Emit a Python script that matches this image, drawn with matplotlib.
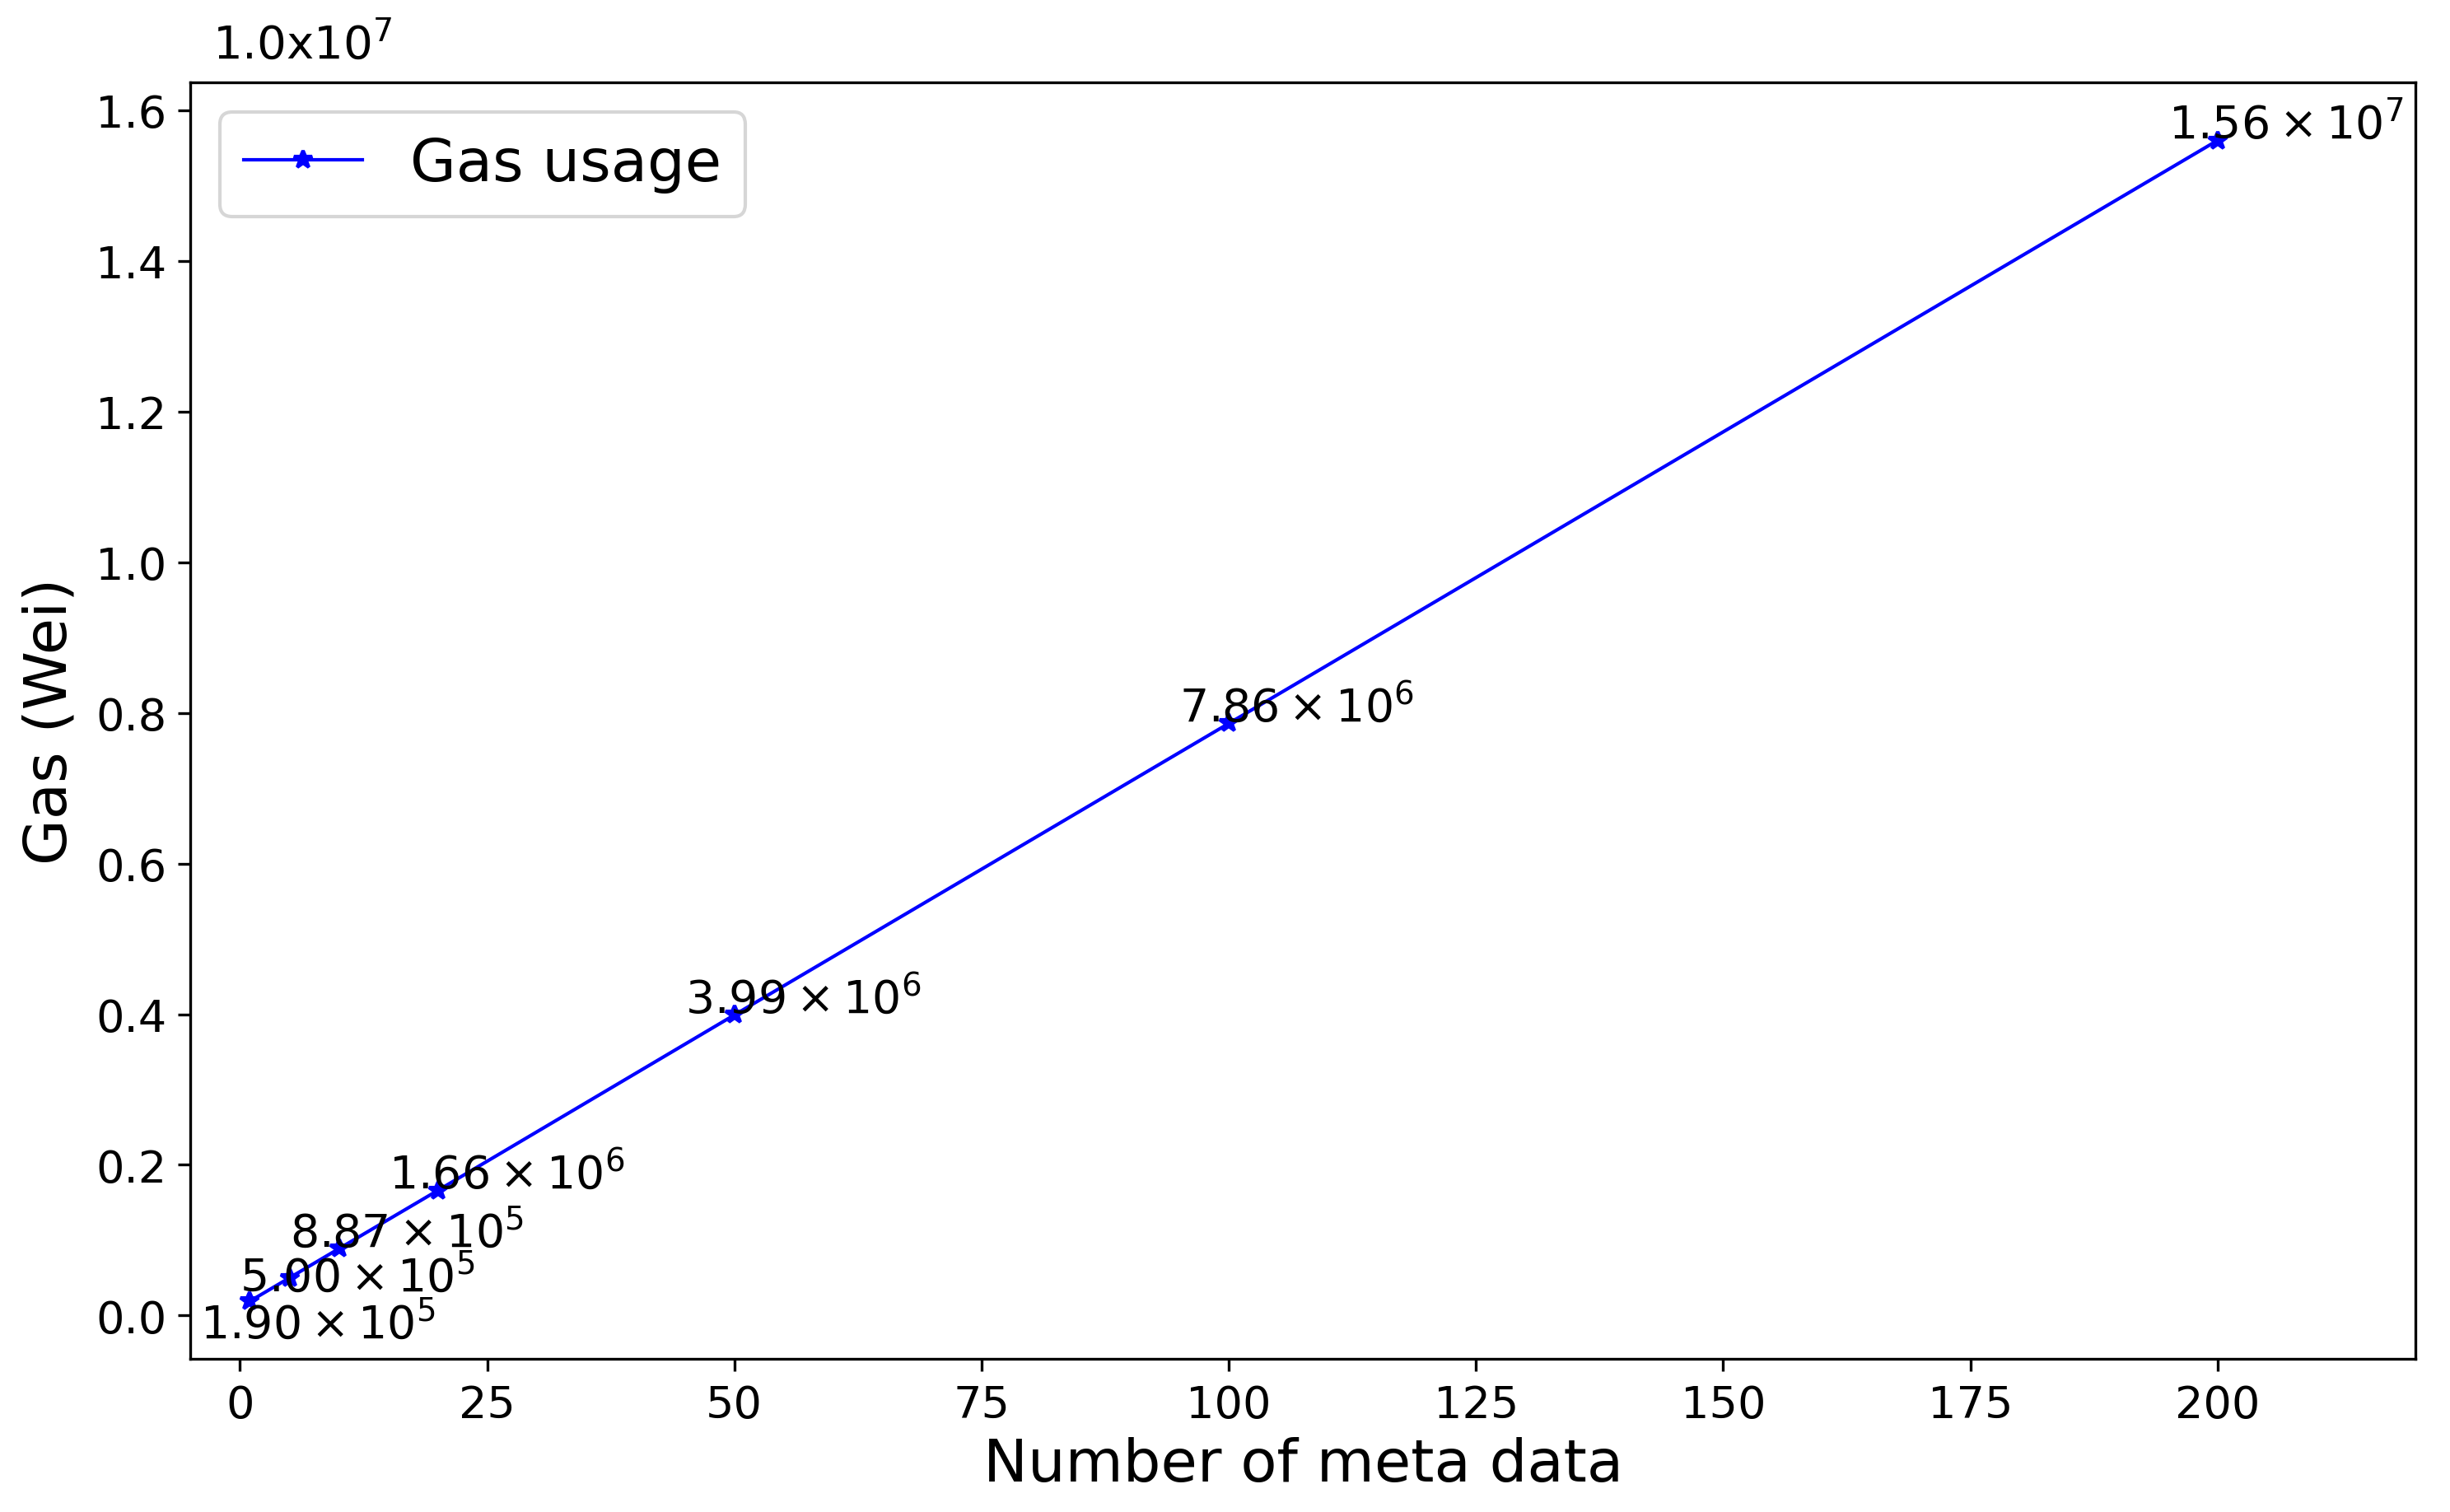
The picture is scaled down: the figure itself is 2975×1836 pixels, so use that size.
import numpy as np
import matplotlib
matplotlib.use('Agg')
import matplotlib.pyplot as plt

# number of meta data vs gas used
meta_count = [1, 5, 10, 20, 50, 100, 200]
gas_used = [1.90e5, 5.00e5, 8.87e5, 1.66e6, 3.99e6, 7.86e6, 1.56e7]

scale = 1.0e7


def sci_label(v):
    exp = int(np.floor(np.log10(v)))
    mant = v / 10**exp
    return r'$%.2f\times10^{%d}$' % (mant, exp)


fig = plt.figure(figsize=(9.9167, 6.1233), dpi=300)
ax = fig.add_axes([0.0778, 0.101, 0.908, 0.844])

gas_scaled = [g / scale for g in gas_used]
ax.plot(meta_count, gas_scaled, color='b', marker='*', markersize=5.5,
        linewidth=1.0, label='Gas usage')

# the two lowest labels were pushed down so they don't overlap
shift = {0: -0.048, 1: -0.017}
for i, (x, y) in enumerate(zip(meta_count, gas_used)):
    ax.text(x - 5, y / scale + shift.get(i, 0.004), sci_label(y),
            fontsize=13.3, va='baseline', ha='left')

ax.set_xlim(-5, 220)
ax.set_xlabel('Number of meta data', fontsize=17.3, labelpad=3)
ax.set_ylabel('Gas (Wei)', fontsize=17.3, labelpad=5)
ax.tick_params(labelsize=13)
ax.legend(loc='upper left', fontsize=17.3)
ax.text(0.01, 1.012, r'1.0x10$^{7}$', transform=ax.transAxes,
        fontsize=13.5, ha='left', va='bottom')

fig.savefig('out.png', dpi=300)
